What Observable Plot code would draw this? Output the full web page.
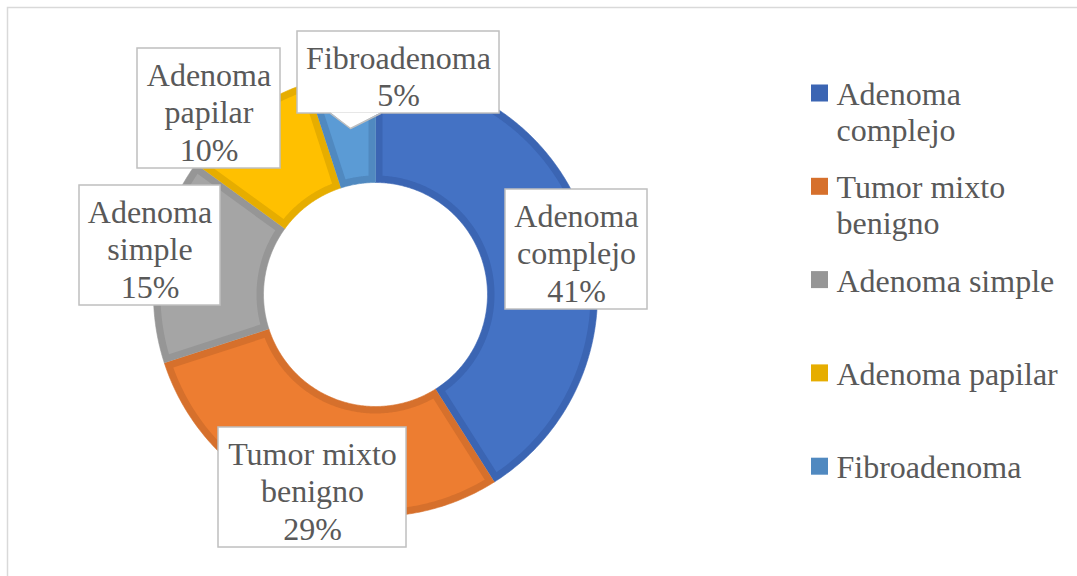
<!DOCTYPE html>
<html><head><meta charset="utf-8">
<script src="https://cdn.jsdelivr.net/npm/d3@7"></script>
<script src="https://cdn.jsdelivr.net/npm/@observablehq/plot@0.6"></script>
<style>body{margin:0;background:#fff;overflow:hidden} svg text{font-family:"Liberation Serif","Times New Roman",serif !important}</style>
</head><body><div id="chart"></div>
<script>
// ---- data ----
const categories = ["Adenoma complejo", "Tumor mixto benigno", "Adenoma simple", "Adenoma papilar", "Fibroadenoma"];
const percents = [41, 29, 15, 10, 5];
const boxLabelLines = [["Adenoma", "complejo"], ["Tumor mixto", "benigno"], ["Adenoma", "simple"], ["Adenoma", "papilar"], ["Fibroadenoma"]];
const legendLabelLines = [["Adenoma", "complejo"], ["Tumor mixto", "benigno"], ["Adenoma simple"], ["Adenoma papilar"], ["Fibroadenoma"]];

// ---- styles / layout ----
const fillColors = ["#4472C4", "#ED7D31", "#A5A5A5", "#FFC000", "#5B9BD5"];
const edgeColors = ["#3B65B3", "#D6702C", "#969696", "#E6AD00", "#5089C0"];
const W = 1077, H = 576;
const cx = 375, cy = 294, rOuter = 222, rInner = 112, edge = 7;
const labelBoxes = [
  {x1: 505, x2: 647, y1: 189, y2: 309},
  {x1: 218, x2: 406, y1: 427, y2: 547},
  {x1: 79, x2: 220, y1: 185, y2: 305},
  {x1: 137, x2: 280, y1: 48, y2: 168},
  {x1: 297, x2: 499, y1: 31, y2: 113, pointer: {bx1: 330, bx2: 380, tx: 350, ty: 128}}
];
const legendLayout = {sx1: 811, sx2: 828, tx: 836, y0: 93, step: 93.3, size: 17};
const textColor = "#595959";
const fontSize = 32;
const fontFamily = '"Liberation Serif", "Times New Roman", serif';

// ---- geometry from data ----
const total = d3.sum(percents);
let acc = 0;
const slices = percents.map((v, i) => {
  const a0 = acc / total * 2 * Math.PI; acc += v;
  const a1 = acc / total * 2 * Math.PI;
  return {i, a0, a1};
});
const pt = (r, a) => ({x: cx + r * Math.sin(a), y: cy - r * Math.cos(a)});
function ring(s, inset, layer, color) {
  const ro = rOuter - inset, ri = rInner + inset;
  const dO = Math.asin(inset / ro), dI = Math.asin(inset / ri);
  const n = Math.max(8, Math.ceil((s.a1 - s.a0) * 90));
  const pts = [];
  for (let k = 0; k <= n; k++) {
    const a = s.a0 + dO + (s.a1 - s.a0 - 2 * dO) * k / n;
    pts.push({...pt(ro, a), z: layer + s.i, color});
  }
  for (let k = n; k >= 0; k--) {
    const a = s.a0 + dI + (s.a1 - s.a0 - 2 * dI) * k / n;
    pts.push({...pt(ri, a), z: layer + s.i, color});
  }
  return pts;
}
const edgePts = slices.flatMap(s => ring(s, 0, "e", edgeColors[s.i]));
const fillPts = slices.flatMap(s => ring(s, edge, "f", fillColors[s.i]));

const boxes = labelBoxes.map((b, i) => ({...b, text: boxLabelLines[i].join("\n") + "\n" + percents[i] + "%",
  cxm: (b.x1 + b.x2) / 2, cym: (b.y1 + b.y2) / 2 + 3}));
const pointerFill = labelBoxes.filter(b => b.pointer).flatMap((b, j) => [
  {x: b.pointer.bx1, y: b.y2 - 1, z: j}, {x: b.pointer.tx, y: b.pointer.ty, z: j}, {x: b.pointer.bx2, y: b.y2 - 1, z: j}]);
const pointerLine = labelBoxes.filter(b => b.pointer).flatMap((b, j) => [
  {x: b.pointer.bx1, y: b.y2, z: j}, {x: b.pointer.tx, y: b.pointer.ty, z: j}, {x: b.pointer.bx2, y: b.y2, z: j}]);

const legendLH = 1.12;
const legend = categories.map((c, i) => {
  const yc = legendLayout.y0 + i * legendLayout.step;
  const nl = legendLabelLines[i].length;
  return {c, color: edgeColors[i], y1: yc - legendLayout.size / 2, y2: yc + legendLayout.size / 2,
    ty: yc + (nl - 1) * fontSize * legendLH / 2, text: legendLabelLines[i].join("\n")};
});

const chart = Plot.plot({
  width: W, height: H, margin: 0,
  x: {domain: [0, W], range: [0, W], axis: null},
  y: {domain: [0, H], range: [0, H], axis: null},
  style: {background: "white", fontFamily, overflow: "hidden"},
  marks: [
    Plot.rect([{}], {x1: 7.5, x2: W + 20, y1: 7.5, y2: H + 20, fill: "white", stroke: "#D9D9D9", strokeWidth: 1.5}),
    Plot.line(edgePts, {x: "x", y: "y", z: "z", fill: "color", stroke: "color", strokeWidth: 0.6, curve: "linear"}),
    Plot.line(fillPts, {x: "x", y: "y", z: "z", fill: "color", stroke: null, curve: "linear"}),
    Plot.rect(boxes, {x1: "x1", x2: "x2", y1: "y1", y2: "y2", fill: "white", stroke: "#BFBFBF", strokeWidth: 1.5}),
    Plot.line(pointerFill, {x: "x", y: "y", z: "z", fill: "white", stroke: null}),
    Plot.line(pointerLine, {x: "x", y: "y", z: "z", stroke: "#BFBFBF", strokeWidth: 1.5}),
    Plot.text(boxes, {x: "cxm", y: "cym", text: "text", fill: textColor, fontSize, fontFamily, lineHeight: 1.17, textAnchor: "middle", lineAnchor: "middle"}),
    Plot.rect(legend, {x1: legendLayout.sx1, x2: legendLayout.sx2, y1: "y1", y2: "y2", fill: "color"}),
    Plot.text(legend, {x: legendLayout.tx, y: "ty", text: "text", fill: textColor, fontSize, fontFamily, lineHeight: legendLH, textAnchor: "start", lineAnchor: "middle"})
  ]
});
document.getElementById("chart").appendChild(chart);
</script></body></html>
